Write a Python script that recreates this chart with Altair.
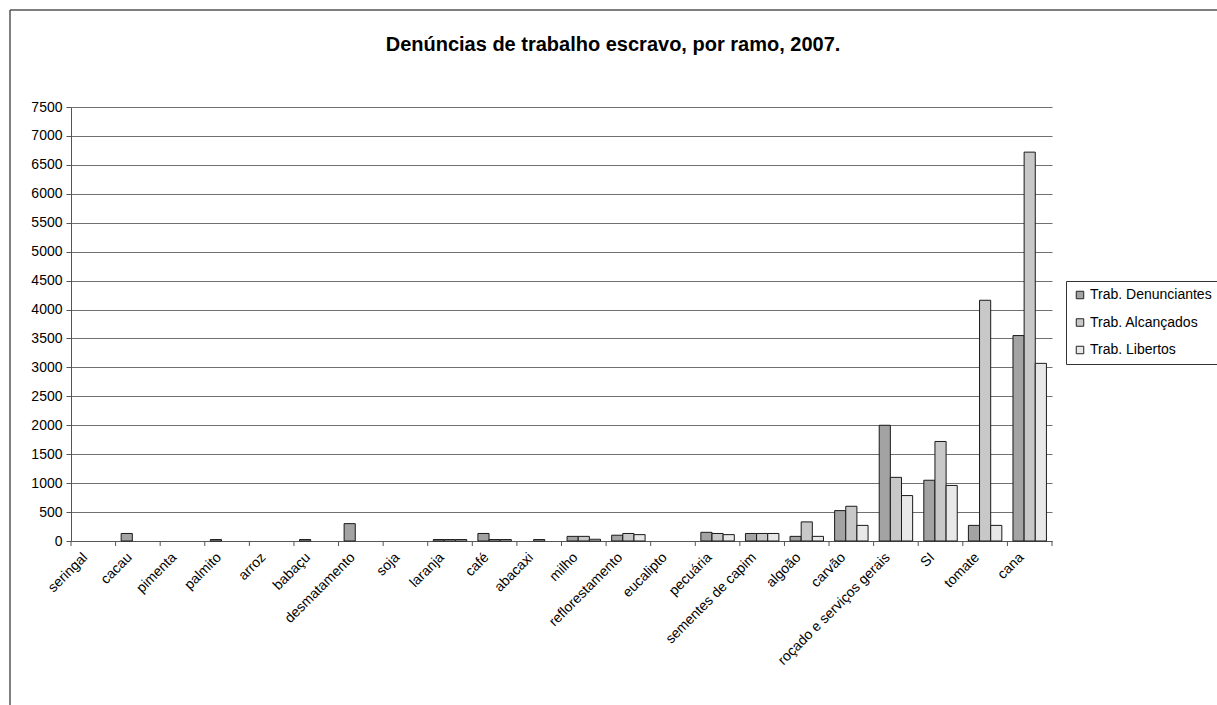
import altair as alt
import pandas as pd

categories = ["seringal", "cacau", "pimenta", "palmito", "arroz", "babaçu",
              "desmatamento", "soja", "laranja", "café", "abacaxi", "milho",
              "reflorestamento", "eucalipto", "pecuária", "sementes de capim",
              "algoão", "carvão", "roçado e serviços gerais", "SI", "tomate", "cana"]
series = ["Trab. Denunciantes", "Trab. Alcançados", "Trab. Libertos"]
denunciantes = [0, 130, 0, 25, 0, 25, 300, 0, 25, 130, 0, 80, 100, 0, 150, 130, 80, 525, 2000, 1050, 270, 3550]
alcancados = [0, 0, 0, 0, 0, 0, 0, 0, 25, 25, 25, 80, 130, 0, 130, 130, 330, 600, 1100, 1720, 4160, 6720]
libertos = [0, 0, 0, 0, 0, 0, 0, 0, 25, 25, 0, 30, 110, 0, 110, 130, 80, 270, 785, 960, 270, 3070]
colors = ["#a3a3a3", "#c8c8c8", "#e8e8e8"]
y_ticks = list(range(0, 7501, 500))
title_text = "Denúncias de trabalho escravo, por ramo, 2007."

rows = []
for s, vals in zip(series, [denunciantes, alcancados, libertos]):
    for c, v in zip(categories, vals):
        rows.append({"category": c, "series": s, "value": v})
df = pd.DataFrame(rows)
cat_df = pd.DataFrame({"category": categories})

FONT = "Liberation Sans"
W, H = 981, 434

x_axis = alt.Axis(title=None, labelAngle=315, labelAlign="right",
                  labelBaseline="middle", labelFontSize=14, labelFont=FONT,
                  labelColor="black", ticks=False, labelPadding=14, labelOffset=-8,
                  domainColor="#555", labelOverlap=False)
x_scale = alt.Scale(paddingInner=0, paddingOuter=0)

bars = alt.Chart(df).transform_filter(alt.datum.value > 0).mark_bar(
    stroke="#1a1a1a", strokeWidth=1
).encode(
    x=alt.X("category:N", sort=categories, scale=x_scale, axis=x_axis),
    xOffset=alt.XOffset("series:N", sort=series,
                        scale=alt.Scale(domain=series, paddingOuter=0.5, paddingInner=0)),
    y=alt.Y("value:Q", scale=alt.Scale(domain=[0, 7500], nice=False),
            axis=alt.Axis(title=None, values=y_ticks, format="d", labelFontSize=14,
                          labelFont=FONT, labelColor="black", tickSize=5,
                          labelPadding=4, gridColor="#707070", domainColor="#555",
                          tickColor="#555")),
    color=alt.Color("series:N", sort=series,
                    scale=alt.Scale(domain=series, range=colors),
                    legend=alt.Legend(title=None, orient="none", legendX=995, legendY=174,
                                      strokeColor="#333", fillColor="white", padding=7,
                                      symbolType="square", symbolSize=56,
                                      symbolStrokeColor="#222", symbolStrokeWidth=1,
                                      labelFontSize=14, labelFont=FONT, labelColor="black",
                                      rowPadding=13.5, labelOffset=3)),
)

ticks = alt.Chart(cat_df).mark_rule(color="#555").encode(
    x=alt.X("category:N", sort=categories, bandPosition=0, scale=x_scale, axis=x_axis),
    y=alt.value(H), y2=alt.value(H + 5),
)
end_tick = alt.Chart(alt.Data(values=[{}])).mark_rule(color="#555").encode(
    x=alt.value(W), y=alt.value(H), y2=alt.value(H + 5)
)
title = alt.Chart(alt.Data(values=[{}])).mark_text(
    fontSize=20, fontWeight="bold", font=FONT, align="center", baseline="alphabetic",
    color="black"
).encode(x=alt.value(542), y=alt.value(-56), text=alt.value(title_text))
border_top = alt.Chart(alt.Data(values=[{}])).mark_rule(color="#555", strokeWidth=1.5).encode(
    x=alt.value(-61), x2=alt.value(1160), y=alt.value(-97)
)
border_left = alt.Chart(alt.Data(values=[{}])).mark_rule(color="#555", strokeWidth=1.5).encode(
    x=alt.value(-61), y=alt.value(-97), y2=alt.value(610)
)

chart = alt.layer(bars, ticks, end_tick, title, border_top, border_left).properties(
    width=W, height=H,
    autosize=alt.AutoSizeParams(type="none"),
    padding={"left": 71, "top": 107, "right": 165, "bottom": 164},
    background="white",
).configure_view(strokeWidth=0)

chart.save("out.html", embed_options={"renderer": "svg", "actions": False})
